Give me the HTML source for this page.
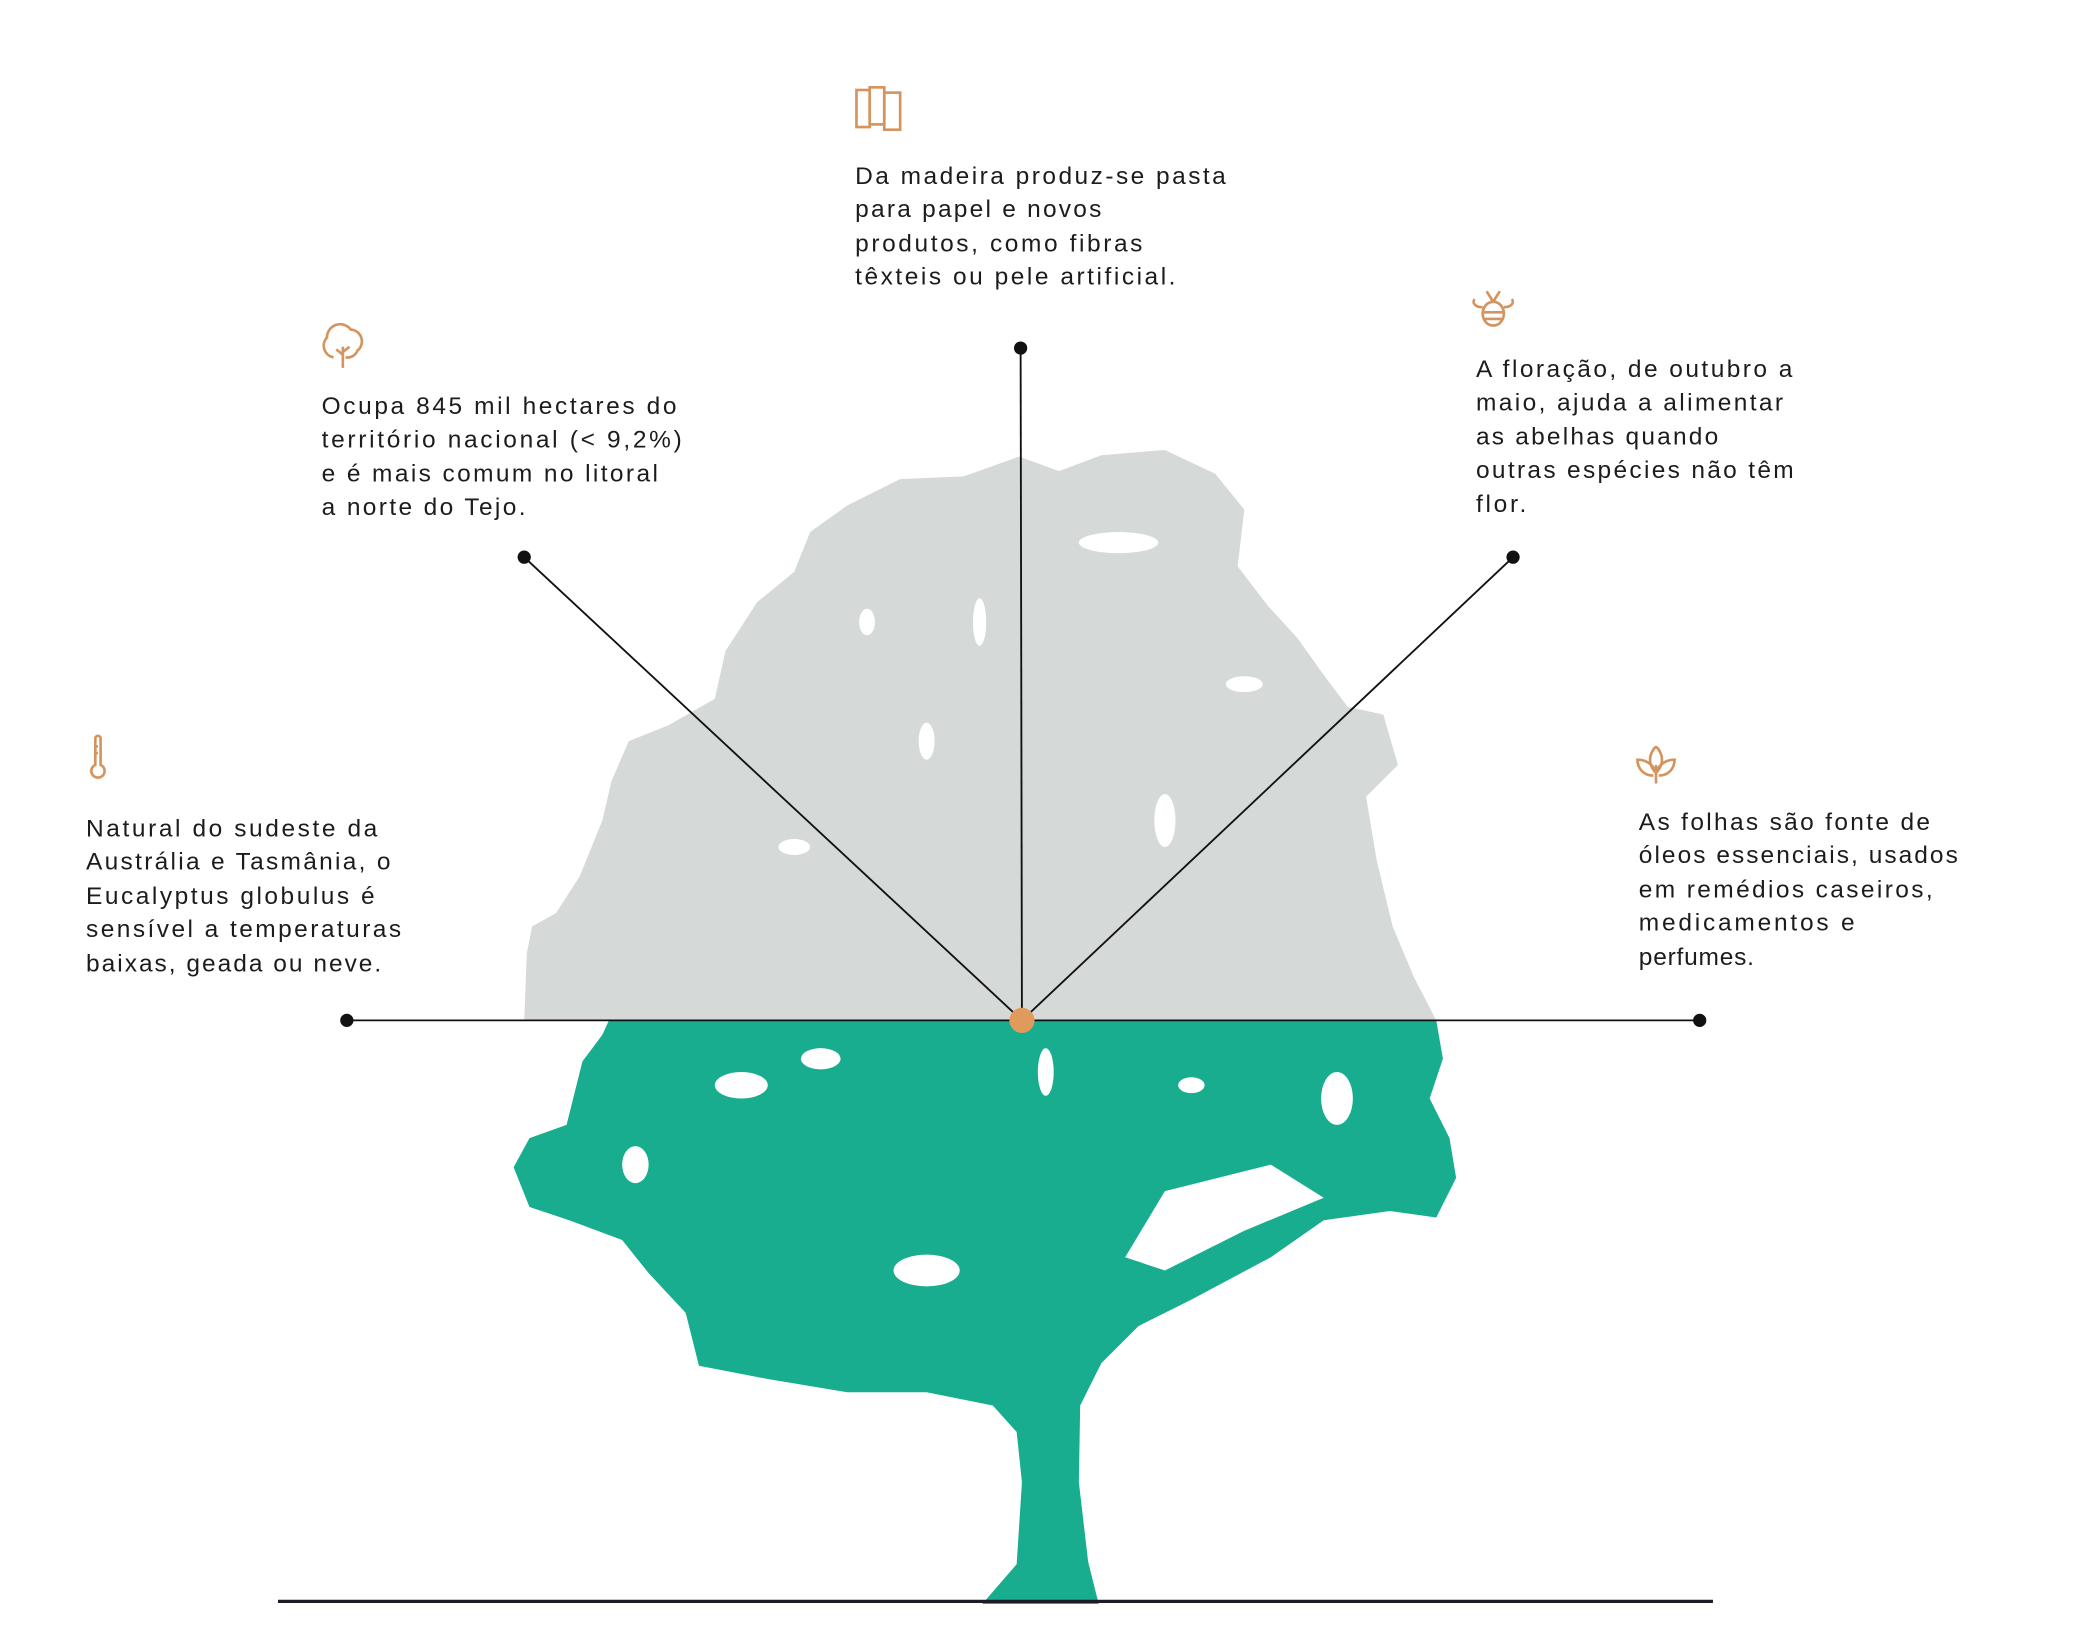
<!DOCTYPE html>
<html><head><meta charset="utf-8"><style>
html,body{margin:0;padding:0;background:#fff;}
svg{display:block;}
text{font-family:"Liberation Sans",sans-serif;font-size:18.5px;fill:#1c1c1c;}
</style></head><body>
<svg width="2073" height="1649" viewBox="0 0 1566 1246" preserveAspectRatio="none" xmlns="http://www.w3.org/2000/svg">
<rect width="1566" height="1246" fill="#fff"/>
<!-- gray canopy -->
<path fill="#d5d9d7" d="M396,771 L398,720 L402,700 L420,690 L438,662 L455,620 L462,590 L475,560 L505,548 L540,528 L548,492 L572,455 L600,432 L612,402 L640,382 L680,362 L728,360 L770,345 L800,356 L832,344 L880,340 L918,358 L940,385 L935,428 L958,458 L980,482 L1000,510 L1018,534 L1045,540 L1056,578 L1032,602 L1040,650 L1052,700 L1068,738 L1085,771 Z"/>
<g fill="#fff">
<ellipse cx="940" cy="517" rx="14" ry="6"/>
<ellipse cx="655" cy="470" rx="6" ry="10"/>
<ellipse cx="740" cy="470" rx="5" ry="18"/>
<ellipse cx="845" cy="410" rx="30" ry="8"/>
<ellipse cx="600" cy="640" rx="12" ry="6"/>
<ellipse cx="880" cy="620" rx="8" ry="20"/>
<ellipse cx="700" cy="560" rx="6" ry="14"/>
</g>
<!-- green tree -->
<path fill="#18ad8e" d="M460,771 L1085,771 L1090,800 L1080,830 L1095,860 L1100,890 L1085,920 L1050,915 L1000,922 L960,950 L900,982 L860,1002 L832,1030 L816,1062 L815,1120 L822,1180 L830,1212 L742,1212 L768,1182 L772,1120 L768,1082 L750,1062 L700,1052 L640,1052 L580,1042 L528,1032 L518,992 L490,962 L470,937 L430,922 L400,912 L388,882 L400,860 L428,850 L440,802 L455,782 Z"/>
<g fill="#fff">
<path d="M880,900 L960,880 L1000,905 L940,930 L880,960 L850,950 Z"/>
<ellipse cx="560" cy="820" rx="20" ry="10"/>
<ellipse cx="620" cy="800" rx="15" ry="8"/>
<ellipse cx="790" cy="810" rx="6" ry="18"/>
<ellipse cx="900" cy="820" rx="10" ry="6"/>
<ellipse cx="700" cy="960" rx="25" ry="12"/>
<ellipse cx="1010" cy="830" rx="12" ry="20"/>
<ellipse cx="480" cy="880" rx="10" ry="14"/>
</g>
<!-- ground line -->
<line x1="210" y1="1210" x2="1294" y2="1210" stroke="#1c1c24" stroke-width="2.4"/>
<!-- connectors -->
<g stroke="#111" stroke-width="1.4">
<line x1="262" y1="771" x2="1284" y2="771"/>
<line x1="771" y1="263" x2="772" y2="771"/>
<line x1="396" y1="421" x2="772" y2="771"/>
<line x1="1143" y1="421" x2="772" y2="771"/>
</g>
<g fill="#111">
<circle cx="262" cy="771" r="5"/><circle cx="1284" cy="771" r="5"/>
<circle cx="771" cy="263" r="5"/><circle cx="396" cy="421" r="5"/><circle cx="1143" cy="421" r="5"/>
</g>
<circle cx="772" cy="771" r="9.5" fill="#e09a5c"/>
<!-- icons -->
<g fill="none" stroke="#d4945e" stroke-width="2">
<rect x="647" y="68" width="10" height="28"/><rect x="657" y="66" width="11" height="28"/><rect x="668" y="70" width="12" height="28"/>
<path d="M259,278 V262 M259,268 l-5,-4 M259,266 l5,-4 M252,270 a9,9 0 0 1 -5,-15 a10,10 0 0 1 18,-6 a9,9 0 0 1 5,16 a8,8 0 0 1 -9,5"/>
<path d="M72,558 v20 a5,5 0 1 0 4,0 v-20 a2,2 0 0 0 -4,0 M72,564 h2 M72,569 h2"/>
<path d="M1128,228 a8,9 0 1 0 0.1,0 M1120,236 h16 M1121,241 h14 M1128,228 l-5,-8 M1128,228 l5,-8 M1120,232 a6,4 0 0 1 -6,-6 M1136,232 a6,4 0 0 0 6,-6"/>
<path d="M1251,592 V578 M1251,564 c-6,6 -6,14 0,20 c6,-6 6,-14 0,-20 M1249,586 c-8,0 -12,-6 -12,-12 c7,0 12,4 14,10 M1253,586 c8,0 12,-6 12,-12 c-7,0 -12,4 -14,10"/>
</g>
<!-- texts -->
<g>
<text x="646" y="139" textLength="280" lengthAdjust="spacing">Da madeira produz-se pasta</text>
<text x="646" y="164" textLength="186" lengthAdjust="spacing">para papel e novos</text>
<text x="646" y="190" textLength="217" lengthAdjust="spacing">produtos, como fibras</text>
<text x="646" y="215" textLength="242" lengthAdjust="spacing">têxteis ou pele artificial.</text>

<text x="243" y="313" textLength="268" lengthAdjust="spacing">Ocupa 845 mil hectares do</text>
<text x="243" y="338" textLength="272" lengthAdjust="spacing">território nacional (&lt; 9,2%)</text>
<text x="243" y="364" textLength="254" lengthAdjust="spacing">e é mais comum no litoral</text>
<text x="243" y="389" textLength="154" lengthAdjust="spacing">a norte do Tejo.</text>

<text x="65" y="632" textLength="220" lengthAdjust="spacing">Natural do sudeste da</text>
<text x="65" y="657" textLength="230" lengthAdjust="spacing">Austrália e Tasmânia, o</text>
<text x="65" y="683" textLength="218" lengthAdjust="spacing">Eucalyptus globulus é</text>
<text x="65" y="708" textLength="238" lengthAdjust="spacing">sensível a temperaturas</text>
<text x="65" y="734" textLength="223" lengthAdjust="spacing">baixas, geada ou neve.</text>

<text x="1115" y="285" textLength="239" lengthAdjust="spacing">A floração, de outubro a</text>
<text x="1115" y="310" textLength="232" lengthAdjust="spacing">maio, ajuda a alimentar</text>
<text x="1115" y="336" textLength="183" lengthAdjust="spacing">as abelhas quando</text>
<text x="1115" y="361" textLength="240" lengthAdjust="spacing">outras espécies não têm</text>
<text x="1115" y="387" textLength="38" lengthAdjust="spacing">flor.</text>

<text x="1238" y="627" textLength="220" lengthAdjust="spacing">As folhas são fonte de</text>
<text x="1238" y="652" textLength="241" lengthAdjust="spacing">óleos essenciais, usados</text>
<text x="1238" y="678" textLength="222" lengthAdjust="spacing">em remédios caseiros,</text>
<text x="1238" y="703" textLength="163" lengthAdjust="spacing">medicamentos e</text>
<text x="1238" y="729" textLength="87" lengthAdjust="spacing">perfumes.</text>
</g>
</svg>
</body></html>
